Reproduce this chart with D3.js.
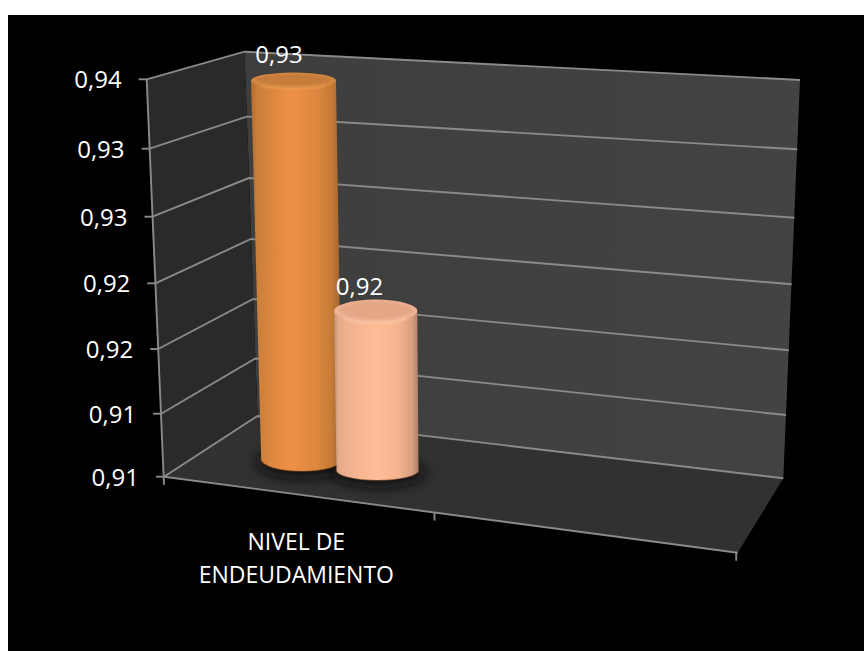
<!DOCTYPE html>
<html><head><meta charset="utf-8">
<script src="https://cdn.jsdelivr.net/npm/d3@7/dist/d3.min.js"></script>
<style>html,body{margin:0;padding:0;background:#fff}svg{display:block}text{font-family:"Open Sans",sans-serif;fill:#fff}</style>
</head><body><div id="c"></div>
<script>
const tickValues=[0.91,0.915,0.92,0.925,0.93,0.935,0.94];
const tickLabels=["0,91","0,91","0,92","0,92","0,93","0,93","0,94"];
const categories=["NIVEL DE","ENDEUDAMIENTO"];
const seriesValues=[0.9349,0.92046];
const seriesLabelFormat=v=>d3.format(".2f")(v).replace(".",",");

const W=864,H=651;
const svg=d3.select("#c").append("svg").attr("width",W).attr("height",H);
svg.append("rect").attr("width",W).attr("height",H).attr("fill","#fff");
svg.append("rect").attr("x",8).attr("y",15).attr("width",W-8).attr("height",H-15).attr("fill","#000");

// perspective: one scale per wall edge
const frontY=d3.scaleLinear().domain(tickValues).range([476.7,413.7,349,283.3,216.7,148.7,79.3]);
const frontX=d3.scaleLinear().domain([0.91,0.94]).range([164,146.7]);
const cornerY=d3.scaleLinear().domain(tickValues).range([416,358.5,299,239,178,116.6,51.7]);
const cornerX=d3.scaleLinear().domain([0.91,0.94]).range([257.5,244.5]);
const rightY=d3.scaleLinear().domain(tickValues).range([478.3,415,350.3,284.3,217.7,149.3,80]);
const rightX=d3.scaleLinear().domain([0.91,0.94]).range([783.3,800]);
const floorFront=d3.scaleLinear().domain([0,1]).range([164,737.7]);
const floorFrontY=d3.scaleLinear().domain([0,1]).range([476.7,552.7]);
const lo=tickValues[0],hi=tickValues[tickValues.length-1];

const defs=svg.append("defs");
function grad(id,stops,x2=1,y2=0){
  const g=defs.append("linearGradient").attr("id",id).attr("x1",0).attr("y1",0).attr("x2",x2).attr("y2",y2);
  stops.forEach(s=>g.append("stop").attr("offset",s[0]).attr("stop-color",s[1]));
}
grad("wallBack",[[0,"#3e3e3e"],[1,"#434343"]]);
grad("body0",[[0,"#b06c2e"],[0.07,"#c97f3a"],[0.25,"#dd883f"],[0.42,"#ee9048"],[0.7,"#e08840"],[0.88,"#c67c37"],[1,"#99602d"]]);
grad("body1",[[0,"#bd967e"],[0.06,"#e8ab8a"],[0.25,"#f6b592"],[0.5,"#fdbd96"],[0.75,"#f6b590"],[0.92,"#d8a07f"],[1,"#ab8068"]]);
const blur=defs.append("filter").attr("id","blur").attr("x","-40%").attr("y","-80%").attr("width","180%").attr("height","260%");
blur.append("feGaussianBlur").attr("stdDeviation",6);
const blur2=defs.append("filter").attr("id","blurS").attr("x","-20%").attr("y","-30%").attr("width","140%").attr("height","160%");
blur2.append("feGaussianBlur").attr("stdDeviation",1.1);

const poly=p=>"M"+p.map(q=>q.join(",")).join("L")+"Z";
// walls and floor
svg.append("path").attr("d",poly([[cornerX(hi),cornerY(hi)],[rightX(hi),rightY(hi)],[rightX(lo),rightY(lo)],[cornerX(lo),cornerY(lo)]])).attr("fill","url(#wallBack)");
svg.append("path").attr("d",poly([[frontX(hi),frontY(hi)],[cornerX(hi),cornerY(hi)],[cornerX(lo),cornerY(lo)],[frontX(lo),frontY(lo)]])).attr("fill","#2a2a2a");
svg.append("path").attr("d",poly([[frontX(lo),frontY(lo)],[cornerX(lo),cornerY(lo)],[rightX(lo),rightY(lo)],[floorFront(1),floorFrontY(1)]])).attr("fill","#313131");

// grid lines
const line="#8a8a8a";
const grid=svg.append("g").attr("fill","none").attr("stroke",line).attr("stroke-width",1.9);
tickValues.forEach(v=>{
  grid.append("path").attr("d",d3.line()([[frontX(v),frontY(v)],[cornerX(v),cornerY(v)],[rightX(v),rightY(v)]]));
});
grid.append("path").attr("d",d3.line()([[frontX(hi),frontY(hi)],[frontX(lo),frontY(lo)+8]]));
grid.append("path").attr("d",d3.line()([[floorFront(0),floorFrontY(0)],[floorFront(1),floorFrontY(1)]]));
// axis ticks
tickValues.forEach((v,i)=>{
  grid.append("path").attr("d",d3.line()([[frontX(v)-8,frontY(v)],[frontX(v),frontY(v)]]));
  svg.append("text").attr("x",frontX(v)-25).attr("y",frontY(v)+9).attr("text-anchor","end").attr("font-size",24).text(tickLabels[i]);
});
[0.4715,1].forEach(t=>{
  const x=floorFront(t)-(t===1?1.5:0),y=floorFrontY(t);
  grid.append("path").attr("d",d3.line()([[x,y],[x,y+8]]));
});

// cylinders
const height=d3.scaleLinear().domain([lo,hi]).range([0,456]);
const baseCx=d3.scaleLinear().domain([0,1]).range([301.7,377.5]);
const baseCy=d3.scaleLinear().domain([0,1]).range([459,470]);
const baseRx=d3.scaleLinear().domain([0,1]).range([40.5,41]);
const baseRy=d3.scaleLinear().domain([0,1]).range([12,10]);
const topCx=d3.scaleLinear().domain([0,1]).range([293.5,375.7]);
const topRx=d3.scaleLinear().domain([0,1]).range([42.5,41.6]);
const topRy=d3.scaleLinear().domain([0,1]).range([8,11.5]);
const capOuter=["#d48842","#efb394"], capInner=["#c67c3a","#e3a788"], capRim=["#f4a45e","#ffd0ae"], edge=["#6e3f18","#7a4e36"];

// floor shadows
seriesValues.forEach((v,i)=>{
  svg.append("ellipse").attr("cx",baseCx(i)+1).attr("cy",baseCy(i)+3).attr("rx",baseRx(i)+6).attr("ry",baseRy(i)+5)
    .attr("fill","#101010").attr("opacity",0.85).attr("filter","url(#blur)");
});
seriesValues.forEach((v,i)=>{
  const cx=topCx(i),rx=topRx(i),ry=topRy(i),ty=baseCy(i)-height(v);
  const bx=baseCx(i),brx=baseRx(i),bry=baseRy(i),by=baseCy(i);
  const g=svg.append("g");
  // dark lower edge
  g.append("path").attr("d",`M${bx-brx},${by}A${brx},${bry} 0 0 0 ${bx+brx},${by}`)
    .attr("fill","none").attr("stroke",edge[i]).attr("stroke-width",1.6);
  g.append("path")
    .attr("d",`M${cx-rx},${ty}L${bx-brx},${by}A${brx},${bry} 0 0 0 ${bx+brx},${by}L${cx+rx},${ty}Z`)
    .attr("fill",`url(#body${i})`);
  g.append("ellipse").attr("cx",cx).attr("cy",ty).attr("rx",rx).attr("ry",ry).attr("fill",capOuter[i]);
  g.append("path").attr("d",`M${cx-rx*0.75},${ty+ry*0.66}A${rx},${ry} 0 0 0 ${cx+rx*0.75},${ty+ry*0.66}`)
    .attr("fill","none").attr("stroke",capRim[i]).attr("stroke-width",1.3).attr("filter","url(#blurS)");
  g.append("ellipse").attr("cx",cx).attr("cy",ty-0.8).attr("rx",rx-5).attr("ry",ry-2.6).attr("fill",capInner[i]).attr("filter","url(#blurS)");
  g.append("text").attr("x",i?359.5:279).attr("y",i?295:63).attr("text-anchor","middle").attr("font-size",24).text(seriesLabelFormat(v));
});

// category label
svg.append("text").attr("x",296.3).attr("y",550).attr("text-anchor","middle").attr("font-size",23).text(categories[0]);
svg.append("text").attr("x",296.3).attr("y",582.7).attr("text-anchor","middle").attr("font-size",23).text(categories[1]);
</script></body></html>
